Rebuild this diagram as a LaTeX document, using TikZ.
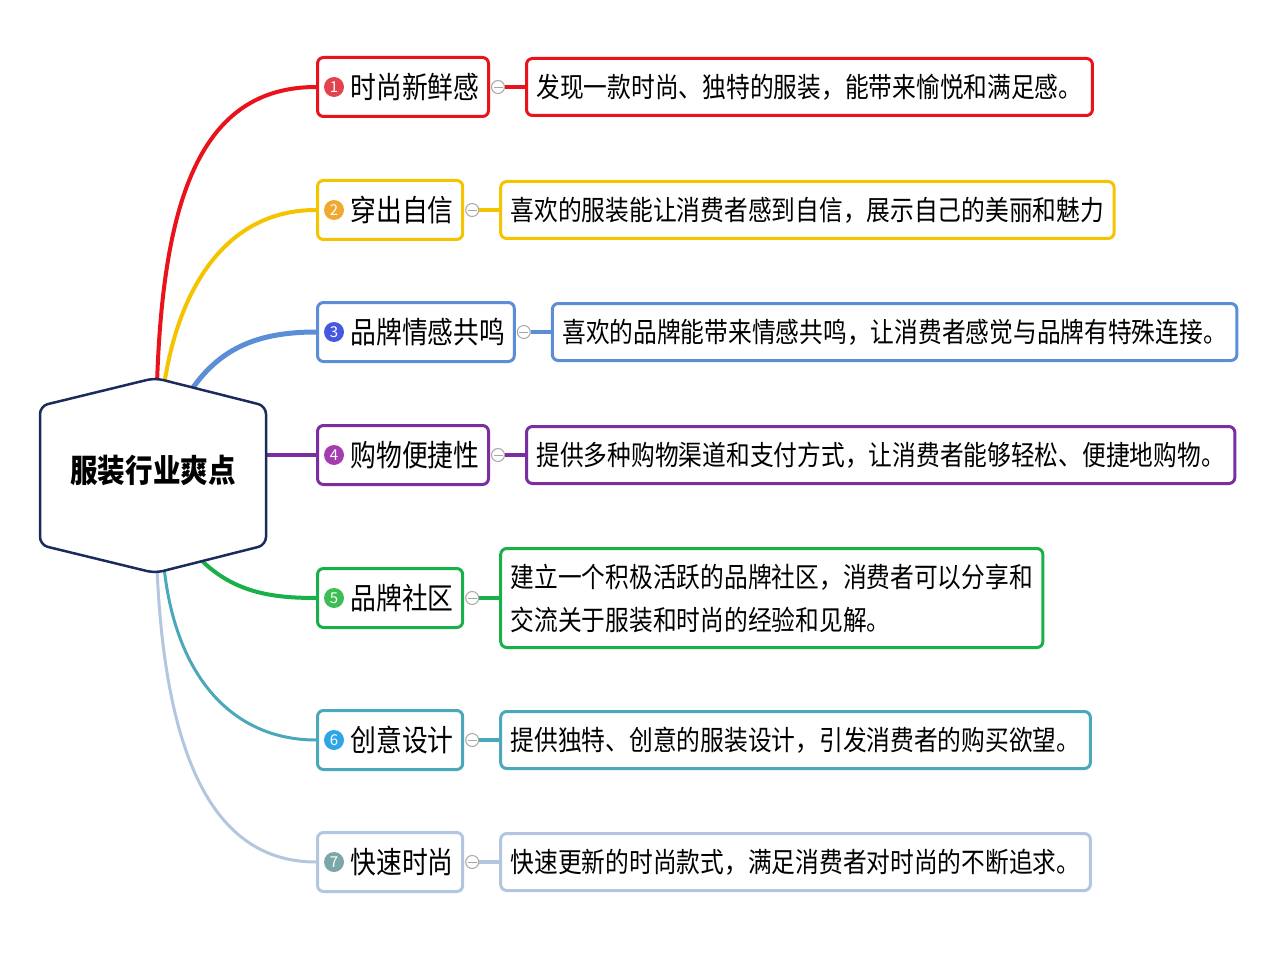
\documentclass[tikz,border=0pt]{standalone}
\usepackage{fontspec}
\newfontfamily\cjk{Noto Sans CJK SC}
\newfontfamily\cjkn{Noto Sans CJK SC}[FakeStretch=0.86]
\usetikzlibrary{positioning}
\definecolor{cRed}{HTML}{E8131B}
\definecolor{cYellow}{HTML}{F5C400}
\definecolor{cBlue}{HTML}{5B8ED6}
\definecolor{cPurple}{HTML}{7A2EA0}
\definecolor{cGreen}{HTML}{19B04A}
\definecolor{cTeal}{HTML}{4BA8BA}
\definecolor{cLight}{HTML}{B2C7DF}
\definecolor{bRed}{HTML}{E2434C}
\definecolor{bYellow}{HTML}{F0A830}
\definecolor{bBlue}{HTML}{4657E0}
\definecolor{bPurple}{HTML}{A43CAE}
\definecolor{bGreen}{HTML}{3DBE55}
\definecolor{bTeal}{HTML}{2EA6E6}
\definecolor{bLight}{HTML}{7BA7A8}
\definecolor{navy}{HTML}{1A2B5C}

\begin{document}
\begin{tikzpicture}[
    x=1pt,y=-1pt,
    node distance=35pt,
    topic/.style={draw=#1,line width=3pt,rounded corners=6pt,fill=white,minimum height=59pt,inner xsep=9pt,anchor=west,font=\cjkn\fontsize{30}{34}\selectfont},
    detail/.style={draw=#1,line width=3pt,rounded corners=6pt,fill=white,minimum height=57pt,inner xsep=10pt,align=left,font=\cjkn\fontsize{27.6}{43}\selectfont},
    badge/.style={circle,fill=#1,inner sep=0pt,minimum size=20pt,text=white,font=\cjk\fontsize{15}{15}\selectfont},
    fold/.style={circle,draw=gray!70,fill=white,line width=1pt,minimum size=13pt,inner sep=0pt,
      path picture={\draw[gray!70,line width=0.8pt] ([xshift=-4.5pt]path picture bounding box.center) -- ([xshift=4.5pt]path picture bounding box.center);}},
    branch/.style={draw=#1,line width=4pt},
    link/.style={draw=#1,line width=4.5pt},
    hexline/.style={draw=navy,line width=2.5pt,fill=white,rounded corners=8pt}
  ]
    \useasboundingbox (0,0) rectangle (1280,960);

    % topics
    \node[topic=cRed] (t1) at (316,87) {\hspace*{24pt}时尚新鲜感};
    \node[topic=cYellow] (t2) at (316,210) {\hspace*{24pt}穿出自信};
    \node[topic=cBlue] (t3) at (316,332) {\hspace*{24pt}品牌情感共鸣};
    \node[topic=cPurple] (t4) at (316,455) {\hspace*{24pt}购物便捷性};
    \node[topic=cGreen] (t5) at (316,598) {\hspace*{24pt}品牌社区};
    \node[topic=cTeal] (t6) at (316,740) {\hspace*{24pt}创意设计};
    \node[topic=cLight] (t7) at (316,862) {\hspace*{24pt}快速时尚};

    \node[badge=bRed] (b1) at ([xshift=18pt]t1.west) {1};
    \node[badge=bYellow] (b2) at ([xshift=18pt]t2.west) {2};
    \node[badge=bBlue] (b3) at ([xshift=18pt]t3.west) {3};
    \node[badge=bPurple] (b4) at ([xshift=18pt]t4.west) {4};
    \node[badge=bGreen] (b5) at ([xshift=18pt]t5.west) {5};
    \node[badge=bTeal] (b6) at ([xshift=18pt]t6.west) {6};
    \node[badge=bLight] (b7) at ([xshift=18pt]t7.west) {7};

    % details
    \node[detail=cRed,right=of t1] (d1) {发现一款时尚、独特的服装，能带来愉悦和满足感。};
    \node[detail=cYellow,right=of t2] (d2) {喜欢的服装能让消费者感到自信，展示自己的美丽和魅力};
    \node[detail=cBlue,right=of t3] (d3) {喜欢的品牌能带来情感共鸣，让消费者感觉与品牌有特殊连接。};
    \node[detail=cPurple,right=of t4] (d4) {提供多种购物渠道和支付方式，让消费者能够轻松、便捷地购物。};
    \node[detail=cGreen,right=of t5,minimum height=99pt] (d5) {建立一个积极活跃的品牌社区，消费者可以分享和\\交流关于服装和时尚的经验和见解。};
    \node[detail=cTeal,right=of t6] (d6) {提供独特、创意的服装设计，引发消费者的购买欲望。};
    \node[detail=cLight,right=of t7] (d7) {快速更新的时尚款式，满足消费者对时尚的不断追求。};

    % fold marks + links
    \foreach \i/\c in {1/cRed,2/cYellow,3/cBlue,4/cPurple,5/cGreen,6/cTeal,7/cLight}{
      \node[fold] (f\i) at ([xshift=8pt]t\i.east) {};
      \draw[link=\c] (f\i) -- (d\i);
    }

    % root hexagon
    \coordinate (hN) at (155,378);
    \coordinate (hNE) at (266,406);
    \coordinate (hSE) at (266,545);
    \coordinate (hS) at (155,573);
    \coordinate (hSW) at (40,545);
    \coordinate (hNW) at (40,406);
    \coordinate (sRed) at (157,384);
    \coordinate (sYellow) at (164,386);
    \coordinate (sBlue) at (190,392);
    \coordinate (sPurple) at (262,455);
    \coordinate (sGreen) at (198,557);
    \coordinate (sTeal) at (164,567);
    \coordinate (sLight) at (157,568);

    \draw[branch=cRed] (sRed) .. controls (163,200) and (200,87) .. (t1.west);
    \draw[branch=cYellow] (sYellow) .. controls (178,290) and (225,210) .. (t2.west);
    \draw[branch=cBlue,line width=5pt] (sBlue) .. controls (218,350) and (255,332) .. (t3.west);
    \draw[branch=cPurple] (sPurple) -- (t4.west);
    \draw[branch=cGreen] (sGreen) .. controls (232,592) and (270,598) .. (t5.west);
    \draw[branch=cTeal,line width=3pt] (sTeal) .. controls (176,680) and (235,740) .. (t6.west);
    \draw[branch=cLight,line width=3pt] (sLight) .. controls (166,780) and (225,862) .. (t7.west);

    \draw[hexline] (hN) -- (hNE) -- (hSE) -- (hS) -- (hSW) -- (hNW) -- cycle;
    \node[font=\cjkn\bfseries\fontsize{32}{36}\selectfont] (root) at (153,470) {服装行业爽点};
\end{tikzpicture}
\end{document}
